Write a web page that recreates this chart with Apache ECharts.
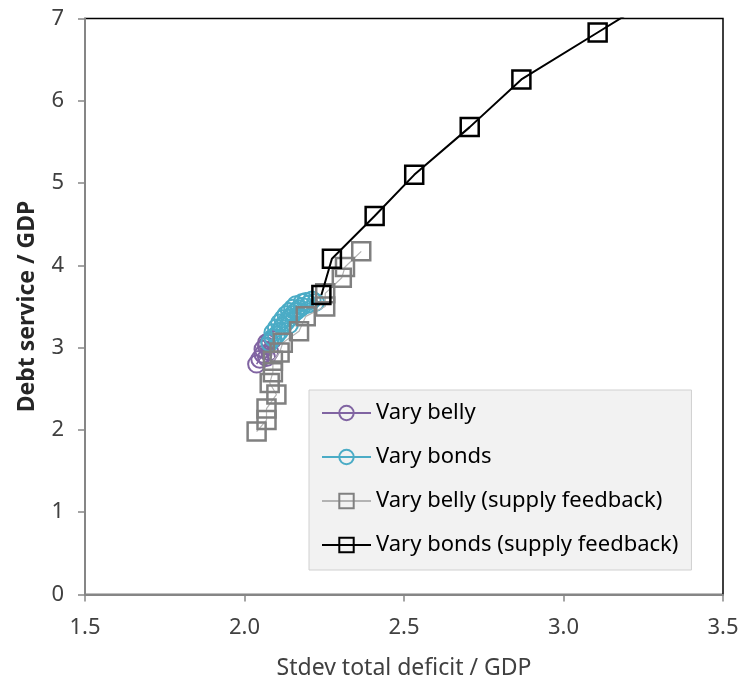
<!DOCTYPE html>
<html>
<head>
<meta charset="utf-8">
<script src="https://cdn.jsdelivr.net/npm/echarts@6/dist/echarts.min.js"></script>
<style>html,body{margin:0;padding:0;background:#fff}#c{width:748px;height:679px}</style>
</head>
<body>
<div id="c"></div>
<script>
var xTicks = [1.5, 2.0, 2.5, 3.0, 3.5];
var yTicks = [0, 1, 2, 3, 4, 5, 6, 7];
var seriesNames = ['Vary belly', 'Vary bonds', 'Vary belly (supply feedback)', 'Vary bonds (supply feedback)'];

var varyBelly = [
  [2.038, 2.80], [2.048, 2.86], [2.058, 2.92], [2.058, 2.98], [2.069, 3.02],
  [2.069, 3.06], [2.079, 3.08], [2.079, 2.95], [2.089, 3.10], [2.069, 2.88]
];
var varyBonds = [
  [2.079, 3.06], [2.089, 3.12], [2.089, 3.18], [2.100, 3.15], [2.100, 3.24],
  [2.110, 3.20], [2.110, 3.30], [2.120, 3.26], [2.120, 3.35], [2.130, 3.31],
  [2.130, 3.40], [2.141, 3.36], [2.141, 3.44], [2.151, 3.40], [2.151, 3.48],
  [2.161, 3.44], [2.161, 3.52], [2.171, 3.47], [2.181, 3.55], [2.181, 3.50],
  [2.192, 3.56], [2.202, 3.53], [2.212, 3.58], [2.223, 3.55], [2.141, 3.28]
];
var varyBellySupply = [
  [2.038, 1.98], [2.069, 2.12], [2.069, 2.26], [2.100, 2.43], [2.079, 2.57],
  [2.089, 2.70], [2.089, 2.84], [2.110, 2.94], [2.120, 3.06], [2.171, 3.20],
  [2.192, 3.38], [2.253, 3.50], [2.253, 3.66], [2.305, 3.85], [2.315, 3.98], [2.366, 4.17]
];
var varyBondsSupply = [
  [2.241, 3.64], [2.274, 4.08], [2.408, 4.60], [2.532, 5.10], [2.706, 5.68],
  [2.868, 6.26], [3.107, 6.83], [3.346, 7.40]
];

var font = 'Noto Sans';
var chart = echarts.init(document.getElementById('c'), null, {renderer: 'canvas'});

chart.setOption({
  animation: false,
  backgroundColor: '#ffffff',
  textStyle: {fontFamily: font},
  grid: {left: 85, right: 25, top: 18.5, bottom: 84.5, containLabel: false, outerBoundsMode: 'none',
    show: true, borderColor: '#000', borderWidth: 1.5, backgroundColor: 'transparent'},
  xAxis: {
    type: 'value', min: xTicks[0], max: xTicks[xTicks.length - 1], interval: 0.5,
    axisLine: {show: true, onZero: false, lineStyle: {color: '#868686', width: 2}},
    axisTick: {show: true, inside: false, length: 7, lineStyle: {color: '#868686', width: 1.5}},
    axisLabel: {color: '#404040', fontSize: 22, fontFamily: font, margin: 22,
      formatter: function (v) { return v.toFixed(1); }},
    splitLine: {show: false},
    name: 'Stdev total deficit / GDP', nameLocation: 'middle', nameGap: 62,
    nameTextStyle: {color: '#404040', fontSize: 23, fontFamily: font}
  },
  yAxis: {
    type: 'value', min: yTicks[0], max: yTicks[yTicks.length - 1], interval: 1,
    axisLine: {show: true, onZero: false, lineStyle: {color: '#868686', width: 2}},
    axisTick: {show: true, inside: false, length: 7, lineStyle: {color: '#868686', width: 1.5}},
    axisLabel: {color: '#404040', fontSize: 22, fontFamily: font, margin: 21},
    splitLine: {show: false},
    name: 'Debt service / GDP', nameLocation: 'middle', nameGap: 46, nameRotate: 90,
    nameTextStyle: {color: '#262626', fontSize: 23, fontWeight: 'bold', fontFamily: font}
  },
  legend: {
    orient: 'vertical', left: 309, top: 390,
    backgroundColor: '#f2f2f2', borderColor: '#d0d0d0', borderWidth: 1,
    padding: [12, 13, 14, 12],
    itemWidth: 49, itemHeight: 18, itemGap: 22,
    textStyle: {color: '#000', fontSize: 22, fontFamily: font},
    data: seriesNames
  },
  series: [
    {
      name: seriesNames[0], type: 'line', data: varyBelly,
      symbol: 'circle', symbolSize: 17, showAllSymbol: true,
      lineStyle: {color: '#8064a2', width: 1.5},
      itemStyle: {color: 'rgba(0,0,0,0)', borderColor: '#8064a2', borderWidth: 2},
      z: 2
    },
    {
      name: seriesNames[1], type: 'line', data: varyBonds,
      symbol: 'circle', symbolSize: 17, showAllSymbol: true,
      lineStyle: {color: '#4bacc6', width: 1.5},
      itemStyle: {color: 'rgba(0,0,0,0)', borderColor: '#4bacc6', borderWidth: 2},
      z: 3
    },
    {
      name: seriesNames[2], type: 'line', data: varyBellySupply,
      symbol: 'rect', symbolSize: 18, showAllSymbol: true,
      lineStyle: {color: '#b3b3b3', width: 1.2},
      itemStyle: {color: 'rgba(0,0,0,0)', borderColor: '#808080', borderWidth: 2.5},
      z: 4
    },
    {
      name: seriesNames[3], type: 'line', data: varyBondsSupply,
      symbol: 'rect', symbolSize: 18, showAllSymbol: true, clip: true,
      lineStyle: {color: '#000', width: 2},
      itemStyle: {color: 'rgba(0,0,0,0)', borderColor: '#000', borderWidth: 2.5},
      z: 5
    }
  ]
});
</script>
</body>
</html>
